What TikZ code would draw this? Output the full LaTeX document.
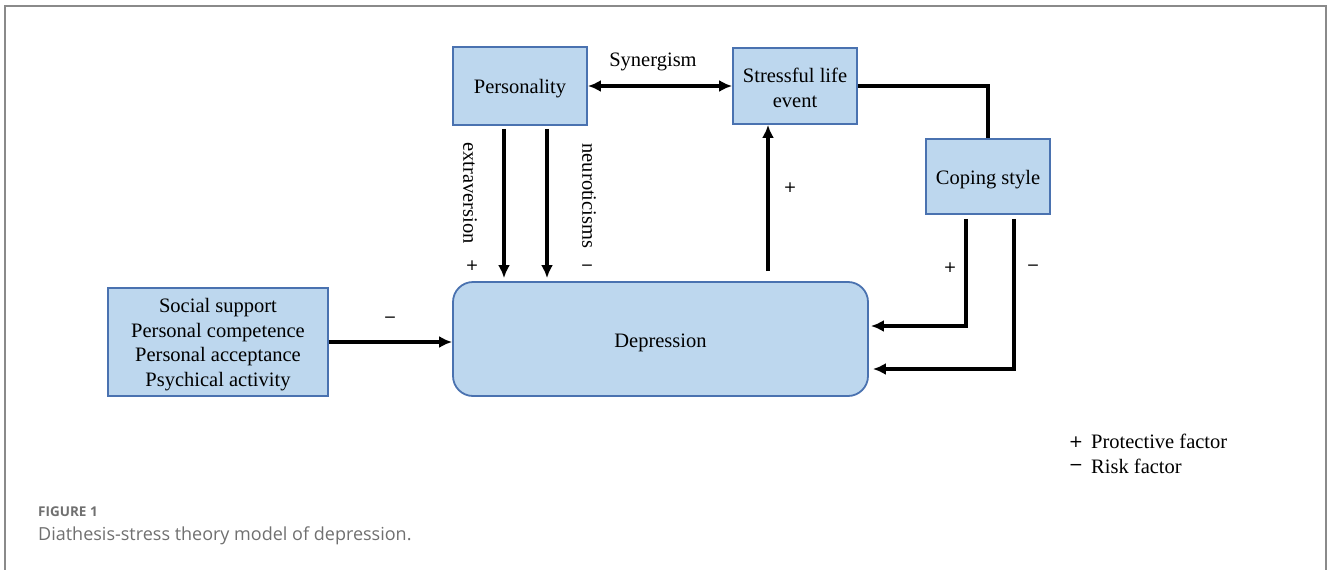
\documentclass[tikz,border=0pt]{standalone}
\usepackage{fontspec}
\setmainfont{Liberation Serif}
\newfontfamily\capfont{Open Sans}
\newfontfamily\signfont{DejaVu Sans}
\usetikzlibrary{arrows.meta,calc}
\definecolor{boxfill}{HTML}{BDD7EE}
\definecolor{boxline}{HTML}{4A72B0}
\definecolor{framegray}{HTML}{8A8A8A}
\definecolor{capgray}{HTML}{707070}
\newcommand{\lowr}[2]{\raisebox{-#1pt}[\height][\depth]{#2}}
\begin{document}
\begin{tikzpicture}[x=1pt,y=-1pt,
  >={Latex[length=13pt,width=12pt]},
  box/.style={draw=boxline, fill=boxfill, line width=1.8pt, align=center,
    font=\fontsize{20.5}{24.8}\selectfont, inner sep=0pt},
  arr/.style={line width=3.2pt, ->},
  dblarr/.style={line width=3.2pt, <->},
  conn/.style={line width=3.2pt},
  lbl/.style={font=\fontsize{20.5}{24.5}\selectfont, inner sep=0pt},
  sgn/.style={font=\signfont\fontsize{15.5}{18}\selectfont, inner sep=0pt},
  lsgn/.style={font=\signfont\fontsize{17}{19}\selectfont, inner sep=0pt},
  capbold/.style={anchor=west, font=\capfont\bfseries\fontsize{13.5}{16}\selectfont, text=capgray, inner sep=0pt},
  captext/.style={anchor=west, font=\capfont\fontsize{18}{22}\selectfont, text=capgray, inner sep=0pt}]

\fill[white] (0,0) rectangle (1328,570);
\useasboundingbox (0,0) rectangle (1328,570);
\draw[framegray, line width=2pt] (5,570) -- (5,6) -- (1326,6) -- (1326,570);

% boxes
\node[box, minimum width=134pt, minimum height=78pt] (pers) at (520,86) {\lowr{3}{Personality}};
\node[box, minimum width=124pt, minimum height=76pt] (stress) at (795,86) {\lowr{1.5}{Stressful life}\\\lowr{1.5}{event}};
\node[box, minimum width=124pt, minimum height=75pt] (cope) at (988,176.5) {\lowr{3}{Coping style}};
\node[box, rounded corners=20pt, minimum width=415pt, minimum height=114pt] (dep) at (660.5,339) {\lowr{3.5}{Depression}};
\node[box, minimum width=220pt, minimum height=108pt] (soc) at (218,342) {\lowr{2.5}{Social support}\\\lowr{2.5}{Personal competence}\\\lowr{2.5}{Personal acceptance}\\\lowr{2.5}{Psychical activity}};

% connectors
\draw[dblarr] (pers.east) -- (stress.west);
\draw[arr] ($(pers.south)+(-16,3)$) -- ($(pers.south |- dep.north)+(-16,-3)$);
\draw[arr] ($(pers.south)+(27,3)$) -- ($(pers.south |- dep.north)+(27,-3)$);
\draw[arr] ($(stress.south |- dep.north)+(-27,-10)$) -- ($(stress.south)+(-27,0)$);
\draw[conn] (stress.east) -| (cope.north);
\draw[arr] ($(cope.south)+(-22,4)$) |- ($(dep.east)+(2,-13)$);
\draw[arr] ($(cope.south)+(26,4)$) |- ($(dep.east)+(4,30)$);
\draw[arr] (soc.east) -- (soc.east -| dep.west);

% labels
\node[lbl] (syn) at (653,62) {Synergism};
\node[lbl, rotate=-90] (extra) at (470,193) {extraversion};
\node[lbl, rotate=-90] (neuro) at (589,196) {neuroticisms};
\node[sgn] (s1) at (472,266) {+};
\node[sgn] (s2) at (587,268) {−};
\node[sgn] (s3) at (790,188) {+};
\node[sgn] (s4) at (950,268) {+};
\node[sgn] (s5) at (1033,268) {−};
\node[sgn] (s6) at (390,320) {−};

% legend
\node[lsgn] (lp) at (1076,442) {+};
\node[lbl, anchor=west] (lpt) at (1091,441) {Protective factor};
\node[lsgn] (lm) at (1076,467) {−};
\node[lbl, anchor=west] (lmt) at (1091,466) {Risk factor};

% caption
\node[capbold] (fig) at (38,512) {FIGURE 1};
\node[captext] (cap) at (38,535.5) {Diathesis-stress theory model of depression.};
\end{tikzpicture}
\end{document}
